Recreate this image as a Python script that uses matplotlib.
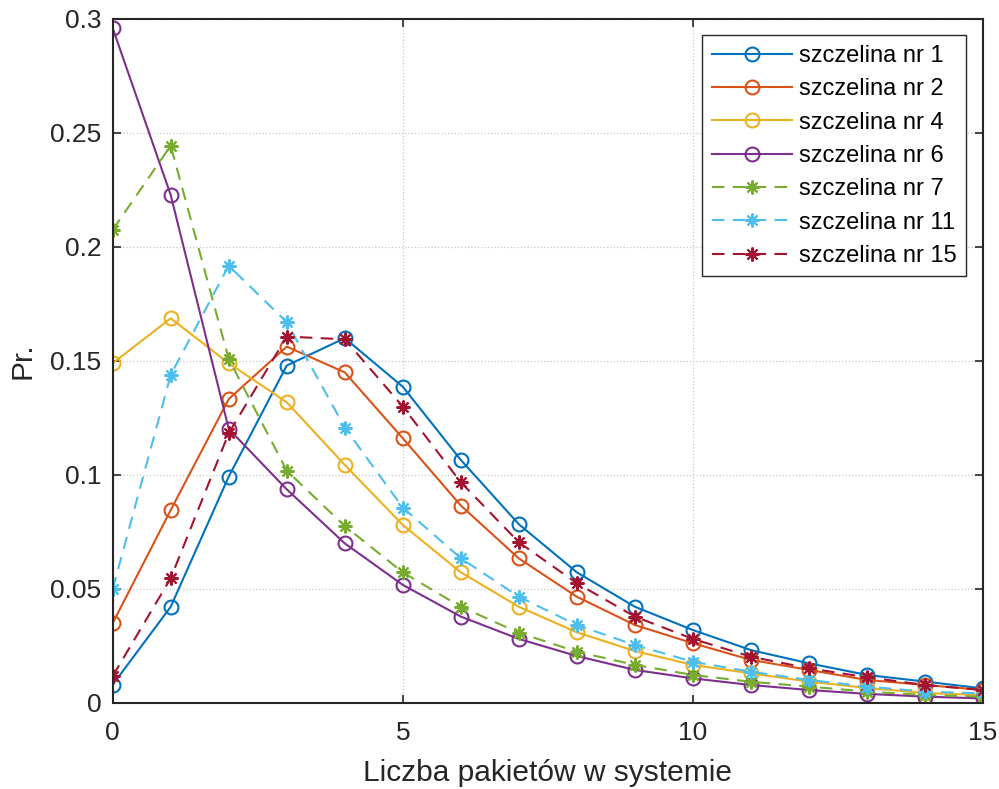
import numpy as np
import matplotlib
matplotlib.use("Agg")
import matplotlib.pyplot as plt

plt.rcParams['font.family'] = ['Liberation Sans', 'DejaVu Sans']

n = list(range(16))

labels = ["szczelina nr 1", "szczelina nr 2", "szczelina nr 4", "szczelina nr 6",
          "szczelina nr 7", "szczelina nr 11", "szczelina nr 15"]

s1 = [0.008, 0.0422, 0.0993, 0.148, 0.160, 0.1387, 0.1066, 0.0784, 0.0573, 0.0422,
      0.032, 0.0232, 0.0174, 0.0123, 0.0094, 0.0064]
s2 = [0.035, 0.0846, 0.1333, 0.1563, 0.145, 0.1161, 0.0866, 0.0634, 0.0466, 0.0342,
      0.0262, 0.0189, 0.0145, 0.0101, 0.0079, 0.0057]
s4 = [0.149, 0.1687, 0.149, 0.1319, 0.1044, 0.0781, 0.0573, 0.0422, 0.031, 0.0228,
      0.0167, 0.013, 0.0094, 0.0066, 0.0044, 0.0035]
s6 = [0.296, 0.2228, 0.1202, 0.0937, 0.070, 0.0518, 0.0379, 0.0281, 0.0206, 0.0145,
      0.0108, 0.0079, 0.0057, 0.004, 0.0028, 0.002]
s7 = [0.2075, 0.2444, 0.1509, 0.1019, 0.0776, 0.0573, 0.0422, 0.0308, 0.0225, 0.0167,
      0.0123, 0.0093, 0.0072, 0.005, 0.0035, 0.0028]
s11 = [0.0499, 0.1439, 0.1918, 0.167, 0.1208, 0.0857, 0.0635, 0.0466, 0.0342, 0.0254,
       0.0181, 0.0137, 0.0101, 0.0072, 0.005, 0.0042]
s15 = [0.0118, 0.0547, 0.1183, 0.1607, 0.1595, 0.130, 0.0968, 0.0705, 0.0525, 0.0379,
       0.0281, 0.0203, 0.0152, 0.0113, 0.0079, 0.0057]

series = [s1, s2, s4, s6, s7, s11, s15]
colors = ['#0072BD', '#D95319', '#EDB120', '#7E2F8E', '#77AC30', '#4DBEEE', '#A2142F']
styles = ['-', '-', '-', '-', '--', '--', '--']
markers = ['o', 'o', 'o', 'o', '*', '*', '*']

fig = plt.figure(figsize=(9.99, 7.89), dpi=100)
ax = fig.add_axes([0.1128, 0.109, 0.8712, 0.867])

for vals, lab, c, ls, mk in zip(series, labels, colors, styles, markers):
    if mk == 'o':
        ax.plot(n, vals, ls, color=c, marker=mk, markersize=10, markerfacecolor='none',
                markeredgewidth=1.5, linewidth=1.5, label=lab)
    else:
        # matlab-style asterisk: + and x together
        ax.plot(n, vals, ls, color=c, marker=(8, 2, 0), markersize=10, markeredgewidth=1.5,
                linewidth=1.5, dashes=(6, 4), label=lab)

ax.set_xlim(0, 15)
ax.set_ylim(0, 0.3)
ax.set_xticks([0, 5, 10, 15])
ax.set_yticks([0, 0.05, 0.1, 0.15, 0.2, 0.25, 0.3])
ax.set_yticklabels(['0', '0.05', '0.1', '0.15', '0.2', '0.25', '0.3'])
ax.grid(True, color='#c8c8c8', linestyle=':', linewidth=0.9)
ax.tick_params(direction='in', length=6, width=1.2, labelsize=19, colors='#262626',
               top=True, right=True)
ax.tick_params(axis='x', pad=13)
ax.tick_params(axis='y', pad=8)
for sp in ax.spines.values():
    sp.set_color('#262626')
    sp.set_linewidth(1.5)

ax.set_xlabel('Liczba pakietów w systemie', fontsize=21.5, color='#262626', labelpad=10)
ax.set_ylabel('Pr.', fontsize=21.5, color='#262626', labelpad=10)

leg = ax.legend(loc='upper right', fontsize=17, fancybox=False, framealpha=1,
                edgecolor='#262626', borderaxespad=0.7, handlelength=3.4,
                labelspacing=0.48, borderpad=0.4, handletextpad=0.3)
leg.get_frame().set_linewidth(1.0)

fig.savefig('out.png', dpi=100)
